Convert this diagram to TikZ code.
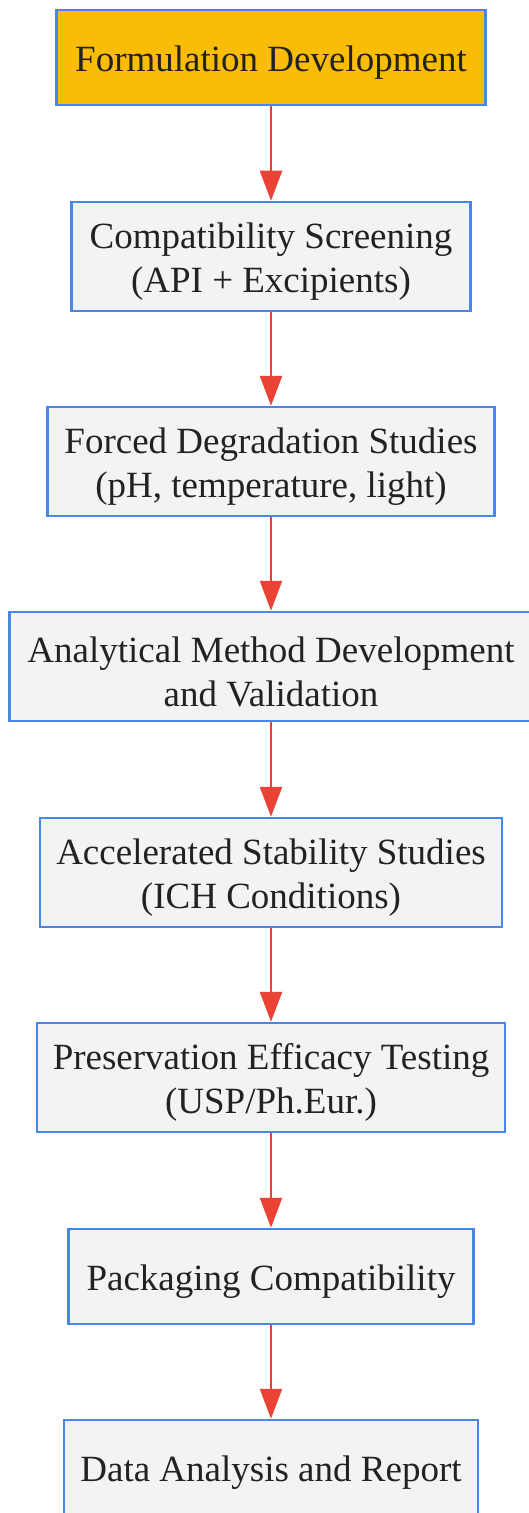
\documentclass[tikz,border=0pt]{standalone}
\usepackage{fontspec}
\setmainfont{Liberation Serif}
\usetikzlibrary{arrows.meta}
\definecolor{boxblue}{HTML}{4A86E8}
\definecolor{boxfill}{HTML}{F1F3F5}
\definecolor{startfill}{HTML}{FBBC05}
\definecolor{arrowred}{HTML}{EA4335}
\definecolor{txt}{HTML}{222222}
\tikzset{
  flowbox/.style={draw=boxblue, line width=2.5bp, fill=boxfill, inner sep=0pt},
  startbox/.style={flowbox, fill=startfill},
  boxtext/.style={text=txt, align=center, inner sep=0pt,
    font=\fontsize{37bp}{44bp}\selectfont},
  flowarrow/.style={draw=arrowred, line width=2.5bp,
    -{Triangle[width=22bp,length=30bp]}}
}
\begin{document}
\begin{tikzpicture}[x=1bp,y=-1bp]
\useasboundingbox (0,0) rectangle (529,1513);
\clip (0,0) rectangle (529,1513);
\node[startbox, minimum width=429bp, minimum height=95bp] (n1) at (271,57.5) {};
\node[flowbox, minimum width=399bp, minimum height=109bp] (n2) at (271,256.5) {};
\node[flowbox, minimum width=447bp, minimum height=109bp] (n3) at (271,461.5) {};
\node[flowbox, minimum width=523bp, minimum height=109bp] (n4) at (271,666.5) {};
\node[flowbox, minimum width=462bp, minimum height=109bp] (n5) at (271,872.5) {};
\node[flowbox, minimum width=468bp, minimum height=109bp] (n6) at (271,1077.5) {};
\node[flowbox, minimum width=405bp, minimum height=95bp] (n7) at (271,1276.5) {};
\node[flowbox, minimum width=414bp, minimum height=95bp] (n8) at (271,1467.5) {};
\node[boxtext] (t1) at ([yshift=-5bp]n1.center) {Formulation Development};
\node[boxtext] (t2) at ([yshift=-5bp]n2.center) {Compatibility Screening\\(API + Excipients)};
\node[boxtext] (t3) at ([yshift=-5bp]n3.center) {Forced Degradation Studies\\(pH, temperature, light)};
\node[boxtext] (t4) at ([yshift=-5bp]n4.center) {Analytical Method Development\\and Validation};
\node[boxtext] (t5) at ([yshift=-5bp]n5.center) {Accelerated Stability Studies\\(ICH Conditions)};
\node[boxtext] (t6) at ([yshift=-5bp]n6.center) {Preservation Efficacy Testing\\(USP/Ph.Eur.)};
\node[boxtext] (t7) at ([yshift=-5bp]n7.center) {Packaging Compatibility};
\node[boxtext] (t8) at ([yshift=-5bp]n8.center) {Data Analysis and Report};
\foreach \a/\b in {n1/n2,n2/n3,n3/n4,n4/n5,n5/n6,n6/n7,n7/n8}{
  \draw[flowarrow] (\a.south) -- (\b.north);
}
\end{tikzpicture}
\end{document}
